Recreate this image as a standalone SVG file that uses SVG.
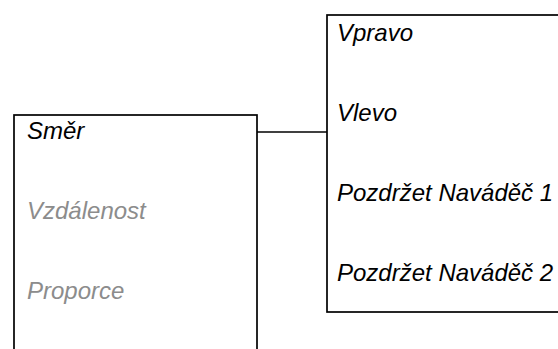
<svg xmlns="http://www.w3.org/2000/svg" width="558" height="349" viewBox="0 0 558 349">
<style>
.box{fill:#fff;stroke:#000;stroke-width:1.7}
.t{font-family:"Liberation Sans",Arial,sans-serif;font-style:italic;font-size:24px;fill:#000}
.g{fill:#8c8c8c}
.c{stroke:#000;stroke-width:1.7;fill:none}
</style>
<rect width="558" height="349" fill="#fff"/>
<g id="connectors">
<line class="c" x1="257" y1="132" x2="327" y2="132"/>
</g>
<g id="node-smer">
<rect class="box" x="14" y="115" width="243" height="260"/>
<text class="t" x="27" y="139">Směr</text>
<text class="t g" x="27" y="219">Vzdálenost</text>
<text class="t g" x="27" y="299">Proporce</text>
</g>
<g id="node-vpravo">
<rect class="box" x="327" y="15" width="260" height="297"/>
<text class="t" x="337" y="41">Vpravo</text>
<text class="t" x="337" y="121">Vlevo</text>
<text class="t" x="337" y="201">Pozdržet Naváděč 1</text>
<text class="t" x="337" y="281">Pozdržet Naváděč 2</text>
</g>
</svg>
